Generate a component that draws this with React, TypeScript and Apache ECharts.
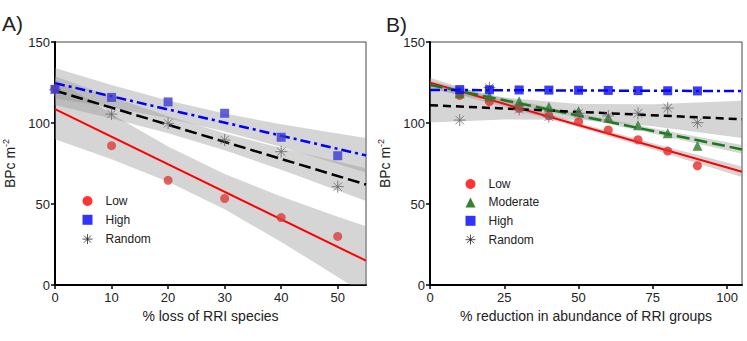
import React, { useEffect, useRef } from 'react';
import * as echarts from 'echarts';

const FONT = '"Liberation Sans", Arial, Helvetica, sans-serif';

// ---------- Panel A: % loss of RRI species ----------
const ptsXA = [0, 10, 20, 30, 40, 50];
const lowA = [121, 86, 64.6, 53.4, 41.6, 30];
const highA = [120.8, 115.8, 113, 106, 91.2, 79.8];
const randA = [120.5, 105.5, 99.8, 89.5, 82.3, 60.7];

const fitXA = [0, 55];
const lowFitA = [108.6, 15];
const highFitA = [124.6, 80];
const randFitA = [120, 62];

const bandXA = [0, 10, 20, 30, 40, 50, 55];
const lowBandLoA = [90, 77.6, 63.7, 46.7, 26.6, 5, -6.1];
const lowBandHiA = [127.2, 105.6, 85.5, 68.5, 54.6, 42.2, 36.3];
const highBandLoA = [115.2, 109.5, 102.9, 94.8, 85.2, 74.7, 69.3];
const highBandHiA = [134, 123.5, 113.9, 105.8, 99.2, 93.5, 90.7];
const randBandLoA = [111.1, 102.8, 93.7, 83.2, 71.1, 58.4, 51.9];
const randBandHiA = [128.9, 116.2, 104.1, 93.6, 84.5, 76.2, 72.1];

// ---------- Panel B: % reduction in abundance of RRI groups ----------
const ptsXB = [10, 20, 30, 40, 50, 60, 70, 80, 90];
const lowB = [117, 113.2, 109, 104.5, 100.8, 95.7, 89.7, 82.7, 73.6];
const modB = [118.3, 116.5, 113.4, 110, 107.2, 103.2, 98.6, 93.6, 86];
const highB = [120.6, 120.5, 120.4, 120.3, 120.2, 120.1, 120, 119.9, 119.8];
const randB = [101.8, 121.8, 108.4, 103.9, 106, 104.3, 106, 109.2, 100.2];

const fitXB = [0, 105];
const lowFitB = [124.9, 69.9];
const modFitB = [123.5, 83.7];
const highFitB = [120.4, 119.7];
const randFitB = [111, 102.3];

const bandXB = [0, 25, 50, 75, 105];
const lowBandLoB = [121.9, 109.9, 97.3, 83.7, 66.7];
const lowBandHiB = [127.9, 113.7, 100.1, 87.5, 73.1];
const modBandLoB = [121, 112.4, 103.4, 93.5, 81];
const modBandHiB = [126, 115.6, 105.8, 96.7, 86.4];
const randBandLoB = [100.3, 102.1, 102, 98, 90.8];
const randBandHiB = [121.7, 115.7, 111.8, 111.6, 113.8];

const yTicks = { min: 0, max: 150, interval: 50 };

const STAR = 'path://M10 0L10 20M0 10L20 10M3 3L17 17M3 17L17 3';
const BAND = 'rgba(150,150,150,0.40)';

const pairs = (xs: number[], ys: number[]) => xs.map((x, i) => [x, ys[i]]);

function band(xs: number[], lo: number[], hi: number[], gi: number) {
  return {
    type: 'custom', xAxisIndex: gi, yAxisIndex: gi, clip: true, silent: true, z: 1,
    data: xs.map((x, i) => [x, lo[i], hi[i]]),
    encode: { x: 0, y: [1, 2] },
    renderItem: (params: any, api: any) => {
      if (params.dataIndex !== 0) return null;
      const top = xs.map((x, i) => api.coord([x, hi[i]]));
      const bottom = xs.map((x, i) => api.coord([x, lo[i]])).reverse();
      return {
        type: 'polygon',
        shape: { points: top.concat(bottom) },
        style: { fill: BAND, stroke: 'none' },
      };
    },
  };
}

function fit(xs: number[], ys: number[], gi: number, color: string, type: any, width: number) {
  return {
    type: 'line', xAxisIndex: gi, yAxisIndex: gi, data: pairs(xs, ys), symbol: 'none',
    lineStyle: { color, type, width }, silent: true, z: 2,
  };
}

function xAxis(gi: number, name: string, max: number, interval: number) {
  return {
    gridIndex: gi, type: 'value', min: 0, max, interval, name, nameLocation: 'middle', nameGap: 23,
    nameTextStyle: { fontSize: 14, color: '#222', fontFamily: FONT },
    axisLine: { show: true, lineStyle: { color: '#000', width: 2 } },
    axisTick: { show: true, inside: false, length: 4, lineStyle: { color: '#000', width: 1.5 } },
    axisLabel: { fontSize: 13, color: '#222', fontFamily: FONT, margin: 6, showMaxLabel: false },
    splitLine: { show: false },
  };
}

function yAxis(gi: number) {
  return {
    gridIndex: gi, type: 'value', ...yTicks,
    name: '{a|BPc m}{b|-2}', nameLocation: 'middle', nameGap: 36,
    nameTextStyle: {
      color: '#222', fontFamily: FONT,
      rich: {
        a: { fontSize: 14, color: '#222', fontFamily: FONT, lineHeight: 18 },
        b: { fontSize: 9, color: '#222', fontFamily: FONT, verticalAlign: 'top', lineHeight: 10 },
      },
    },
    axisLine: { show: true, lineStyle: { color: '#000', width: 2 } },
    axisTick: { show: true, inside: false, length: 4, lineStyle: { color: '#000', width: 1.5 } },
    axisLabel: { fontSize: 13, color: '#222', fontFamily: FONT, margin: 5 },
    splitLine: { show: false },
  };
}

export default function App() {
  const ref = useRef<HTMLDivElement>(null);
  useEffect(() => {
    if (!ref.current) return;
    const chart = echarts.init(ref.current, undefined, { renderer: 'svg' });
    const legendText = { fontSize: 12, color: '#222', fontFamily: FONT, padding: [0, 0, 0, 8], lineHeight: 14 };
    const option: any = {
      animation: false,
      backgroundColor: '#fff',
      textStyle: { fontFamily: FONT },
      grid: [
        { left: 53, top: 42, width: 313, height: 243, show: true, borderColor: '#444', borderWidth: 1 },
        { left: 430, top: 42, width: 312, height: 243, show: true, borderColor: '#444', borderWidth: 1 },
      ],
      xAxis: [
        xAxis(0, '% loss of RRI species', 55, 10),
        xAxis(1, '% reduction in abundance of RRI groups', 105, 25),
      ],
      yAxis: [yAxis(0), yAxis(1)],
      legend: [
        {
          orient: 'vertical', left: 75, top: 189, itemWidth: 10, itemHeight: 10, itemGap: 4.8,
          textStyle: legendText, selectedMode: false,
          data: [
            { name: 'Low', icon: 'circle', itemStyle: { color: '#ff0000' } },
            { name: 'High', icon: 'rect', itemStyle: { color: '#0000ff' } },
            { name: 'Random', icon: STAR, itemStyle: { color: 'none', borderColor: '#222', borderWidth: 1 } },
          ],
        },
        {
          orient: 'vertical', left: 458, top: 172, itemWidth: 10, itemHeight: 10, itemGap: 4.4,
          textStyle: legendText, selectedMode: false,
          data: [
            { name: 'Low', icon: 'circle', itemStyle: { color: '#ff0000' } },
            { name: 'Moderate', icon: 'triangle', itemStyle: { color: '#006400' } },
            { name: 'High', icon: 'rect', itemStyle: { color: '#0000ff' } },
            { name: 'Random', icon: STAR, itemStyle: { color: 'none', borderColor: '#222', borderWidth: 1 } },
          ],
        },
      ],
      graphic: [
        { type: 'text', left: 2, top: 13, style: { text: 'A)', fontSize: 21, fill: '#222', fontFamily: FONT } },
        { type: 'text', left: 386, top: 14, style: { text: 'B)', fontSize: 21, fill: '#222', fontFamily: FONT } },
      ],
      series: [
        // Panel A bands
        band(bandXA, randBandLoA, randBandHiA, 0),
        band(bandXA, highBandLoA, highBandHiA, 0),
        band(bandXA, lowBandLoA, lowBandHiA, 0),
        // Panel B bands
        band(bandXB, randBandLoB, randBandHiB, 1),
        band(bandXB, modBandLoB, modBandHiB, 1),
        band(bandXB, lowBandLoB, lowBandHiB, 1),
        // Panel A fits
        fit(fitXA, lowFitA, 0, '#ff0000', 'solid', 2),
        fit(fitXA, randFitA, 0, '#000', [12, 5], 2.5),
        fit(fitXA, highFitA, 0, '#0000ff', [10, 4, 3, 4], 2.5),
        // Panel B fits
        fit(fitXB, lowFitB, 1, '#ff0000', 'solid', 2),
        fit(fitXB, modFitB, 1, '#1a7a1a', [13, 5], 2.5),
        fit(fitXB, randFitB, 1, '#000', [8, 5], 2.5),
        fit(fitXB, highFitB, 1, '#0000ff', [10, 4, 3, 4], 2.5),
        // Panel A points
        {
          type: 'scatter', name: 'Low', xAxisIndex: 0, yAxisIndex: 0, data: pairs(ptsXA, lowA),
          symbol: 'circle', symbolSize: 9, itemStyle: { color: '#dc3b3b' }, z: 3,
        },
        {
          type: 'scatter', name: 'Random', xAxisIndex: 0, yAxisIndex: 0, data: pairs(ptsXA, randA),
          symbol: STAR, symbolSize: 12, itemStyle: { color: 'none', borderColor: '#666', borderWidth: 1 }, z: 3,
        },
        {
          type: 'scatter', name: 'High', xAxisIndex: 0, yAxisIndex: 0, data: pairs(ptsXA, highA),
          symbol: 'rect', symbolSize: 9, itemStyle: { color: '#3a3ad6' }, z: 4,
        },
        // Panel B points
        {
          type: 'scatter', name: 'Low', xAxisIndex: 1, yAxisIndex: 1, data: pairs(ptsXB, lowB),
          symbol: 'circle', symbolSize: 9, itemStyle: { color: '#e82a2a' }, z: 3,
        },
        {
          type: 'scatter', name: 'Moderate', xAxisIndex: 1, yAxisIndex: 1, data: pairs(ptsXB, modB),
          symbol: 'triangle', symbolSize: 10, itemStyle: { color: '#2a7a2a' }, z: 3,
        },
        {
          type: 'scatter', name: 'Random', xAxisIndex: 1, yAxisIndex: 1, data: pairs(ptsXB, randB),
          symbol: STAR, symbolSize: 12, itemStyle: { color: 'none', borderColor: '#666', borderWidth: 1 }, z: 3,
        },
        {
          type: 'scatter', name: 'High', xAxisIndex: 1, yAxisIndex: 1, data: pairs(ptsXB, highB),
          symbol: 'rect', symbolSize: 9, itemStyle: { color: '#0a0aee' }, z: 4,
        },
      ],
    };
    chart.setOption(option);
    return () => chart.dispose();
  }, []);
  return (
    <div
      ref={ref}
      style={{ position: 'fixed', left: 0, top: 0, width: 747, height: 341, background: '#fff' }}
    />
  );
}
